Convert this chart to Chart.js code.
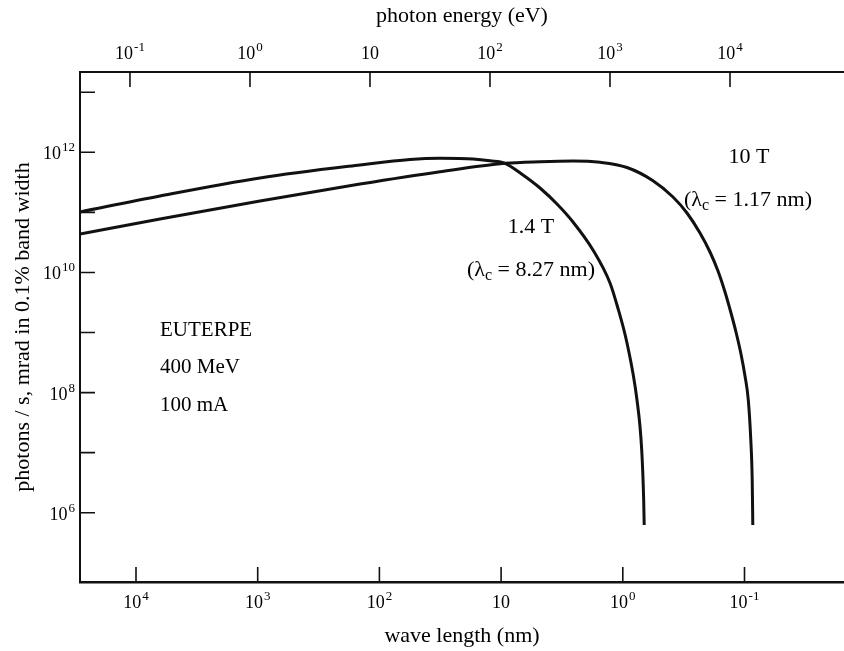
<!DOCTYPE html>
<html>
<head>
<meta charset="utf-8">
<script src="https://cdn.jsdelivr.net/npm/chart.js@4.4.0/dist/chart.umd.min.js"></script>
<style>
  html, body { margin: 0; padding: 0; background: #fff; }
  #wrap { width: 844px; height: 651px; }
</style>
</head>
<body>
<div id="wrap"><canvas id="myChart" width="844" height="651"></canvas></div>
<script>
// 1.4 T dipole: wave length (nm) and flux
var wl14   = [28850, 6350, 957.6, 144.3, 56.05, 31.78, 17.02, 12.34, 9.29, 6.609, 4.791, 3.473, 2.566, 1.758, 1.274, 1.116, 0.9237, 0.7645, 0.6992, 0.6736, 0.6672];
var flux14 = [1.015e11, 1.873e11, 3.734e11, 6.146e11, 7.59e11, 7.945e11, 7.735e11, 7.221e11, 6.56e11, 4.19e11, 2.545e11, 1.378e11, 6.913e10, 2.364e10, 6.672e9, 2.871e9, 6.69e8, 7.522e7, 1.107e7, 1.628e6, 6.246e5];

// 10 T dipole
var wl10   = [28850, 6350, 957.6, 144.3, 31.78, 9.29, 4.791, 2.566, 1.539, 0.9237, 0.5648, 0.3868, 0.2969, 0.2321, 0.1921, 0.1651, 0.1446, 0.1291, 0.1175, 0.1069, 0.09906, 0.09307, 0.08876, 0.08643, 0.08547];
var flux10 = [4.364e10, 7.745e10, 1.544e11, 2.963e11, 4.754e11, 6.56e11, 6.976e11, 7.166e11, 6.817e11, 5.585e11, 3.367e11, 1.803e11, 9.761e10, 4.535e10, 2.189e10, 1.057e10, 4.725e9, 2.112e9, 1.02e9, 4.387e8, 1.888e8, 7.522e7, 1.624e7, 3.504e6, 6.246e5];

var wlTicks   = [1e4, 1e3, 1e2, 10, 1, 0.1];
var wlLabels  = [['10', '4'], ['10', '3'], ['10', '2'], ['10', ''], ['10', '0'], ['10', '-1']];
var eTicks    = [0.1, 1, 10, 100, 1000, 10000];
var eLabels   = [['10', '-1'], ['10', '0'], ['10', ''], ['10', '2'], ['10', '3'], ['10', '4']];
var fluxTicks  = [1e13, 1e12, 1e11, 1e10, 1e9, 1e8, 1e7, 1e6];
var fluxLabels = [null, ['10', '12'], null, ['10', '10'], null, ['10', '8'], null, ['10', '6']];

var serif = "'Liberation Serif', 'Times New Roman', serif";

function pts(xs, ys) {
  return xs.map(function (v, i) { return {x: v, y: ys[i]}; });
}

// short tick marks pointing into the plot
var innerTicks = {
  id: 'innerTicks',
  afterDatasetsDraw: function (chart) {
    var ctx = chart.ctx, a = chart.chartArea;
    ctx.save();
    ctx.strokeStyle = '#111';
    ctx.lineWidth = 1.6;
    ctx.beginPath();
    chart.scales.y.ticks.forEach(function (t) {
      var p = chart.scales.y.getPixelForValue(t.value);
      ctx.moveTo(a.left, p); ctx.lineTo(a.left + 15, p);
    });
    chart.scales.x.ticks.forEach(function (t) {
      var p = chart.scales.x.getPixelForValue(t.value);
      ctx.moveTo(p, a.bottom); ctx.lineTo(p, a.bottom - 15);
    });
    chart.scales.x2.ticks.forEach(function (t) {
      var p = chart.scales.x2.getPixelForValue(t.value);
      ctx.moveTo(p, a.top); ctx.lineTo(p, a.top + 15);
    });
    ctx.stroke();
    ctx.restore();
  }
};

// power-of-ten tick labels with a raised exponent
function drawPow(ctx, lab, x, y, align) {
  ctx.font = '18px ' + serif;
  var wb = ctx.measureText(lab[0]).width;
  ctx.font = '13px ' + serif;
  var we = lab[1] ? ctx.measureText(lab[1]).width + 1 : 0;
  var x0 = align === 'right' ? x - wb - we : x - (wb + we) / 2;
  ctx.textAlign = 'left';
  ctx.textBaseline = 'alphabetic';
  ctx.font = '18px ' + serif;
  ctx.fillText(lab[0], x0, y);
  if (lab[1]) {
    ctx.font = '13px ' + serif;
    ctx.fillText(lab[1], x0 + wb + 1, y - 8);
  }
}

var powLabels = {
  id: 'powLabels',
  afterDraw: function (chart) {
    var ctx = chart.ctx, a = chart.chartArea;
    ctx.save();
    ctx.fillStyle = '#000';
    chart.scales.x.ticks.forEach(function (t, i) {
      drawPow(ctx, wlLabels[i], chart.scales.x.getPixelForValue(t.value), a.bottom + 26);
    });
    chart.scales.x2.ticks.forEach(function (t, i) {
      drawPow(ctx, eLabels[i], chart.scales.x2.getPixelForValue(t.value), a.top - 13);
    });
    chart.scales.y.ticks.forEach(function (t, i) {
      if (fluxLabels[i]) drawPow(ctx, fluxLabels[i], a.left - 5, chart.scales.y.getPixelForValue(t.value) + 7, 'right');
    });
    ctx.restore();
  }
};

// text inside the plot; second number in each part = subscript
var notes = [
  {x: 749, y: 157, parts: [['10 T', 0]]},
  {x: 748, y: 200, parts: [['(λ', 0], ['c', 1], [' = 1.17 nm)', 0]]},
  {x: 531, y: 227, parts: [['1.4 T', 0]]},
  {x: 531, y: 270, parts: [['(λ', 0], ['c', 1], [' = 8.27 nm)', 0]]}
];
var leftNotes = ['EUTERPE', '400 MeV', '100 mA'];

var noteText = {
  id: 'noteText',
  afterDraw: function (chart) {
    var ctx = chart.ctx;
    ctx.save();
    ctx.fillStyle = '#000';
    ctx.textBaseline = 'middle';
    notes.forEach(function (n) {
      var w = 0;
      n.parts.forEach(function (p) {
        ctx.font = (p[1] ? '16px ' : '22px ') + serif;
        w += ctx.measureText(p[0]).width;
      });
      var x = n.x - w / 2;
      ctx.textAlign = 'left';
      n.parts.forEach(function (p) {
        ctx.font = (p[1] ? '16px ' : '22px ') + serif;
        ctx.fillText(p[0], x, n.y + (p[1] ? 6 : 0));
        x += ctx.measureText(p[0]).width;
      });
    });
    ctx.font = '21px ' + serif;
    leftNotes.forEach(function (s, i) {
      ctx.fillText(s, 160, 330 + i * 37.5);
    });
    ctx.restore();
  }
};

var ctx = document.getElementById('myChart').getContext('2d');
var myChart = new Chart(ctx, {
  type: 'line',
  data: {
    datasets: [{
      label: '1.4 T',
      data: pts(wl14, flux14),
      borderColor: '#111',
      borderWidth: 3,
      pointRadius: 0,
      cubicInterpolationMode: 'monotone',
      fill: false
    }, {
      label: '10 T',
      data: pts(wl10, flux10),
      borderColor: '#111',
      borderWidth: 3,
      pointRadius: 0,
      cubicInterpolationMode: 'monotone',
      fill: false
    }]
  },
  options: {
    responsive: false,
    animation: false,
    layout: { padding: 0 },
    plugins: {
      legend: { display: false },
      tooltip: { enabled: false }
    },
    scales: {
      x: {
        type: 'logarithmic',
        position: 'bottom',
        reverse: true,
        min: 0.01522,
        max: 28850,
        grid: { display: false, drawTicks: false },
        border: { display: true, color: '#111', width: 2.5 },
        afterBuildTicks: function (s) { s.ticks = wlTicks.map(function (v) { return {value: v}; }); },
        afterFit: function (s) { s.height = 69; },
        ticks: { display: false },
        title: {
          display: true, text: 'wave length (nm)', color: '#000',
          font: { family: serif, size: 22 }, padding: { top: 0, bottom: 2 }
        }
      },
      x2: {
        type: 'logarithmic',
        position: 'top',
        min: 0.03833,
        max: 89125,
        grid: { display: false, drawTicks: false },
        border: { display: true, color: '#111', width: 2 },
        afterBuildTicks: function (s) { s.ticks = eTicks.map(function (v) { return {value: v}; }); },
        afterFit: function (s) { s.height = 72; },
        ticks: { display: false },
        title: {
          display: true, text: 'photon energy (eV)', color: '#000',
          font: { family: serif, size: 22 }, padding: { top: 3, bottom: 0 }
        }
      },
      y: {
        type: 'logarithmic',
        position: 'left',
        min: 7.03e4,
        max: 2.17e13,
        grid: { display: false, drawTicks: false },
        border: { display: true, color: '#111', width: 2 },
        afterBuildTicks: function (s) { s.ticks = fluxTicks.map(function (v) { return {value: v}; }); },
        afterFit: function (s) { s.width = 80; },
        ticks: { display: false },
        title: {
          display: true, text: 'photons / s, mrad in 0.1% band width', color: '#000',
          font: { family: serif, size: 22 }, padding: { top: 10, bottom: 0 }
        }
      }
    }
  },
  plugins: [innerTicks, powLabels, noteText]
});
</script>
</body>
</html>
